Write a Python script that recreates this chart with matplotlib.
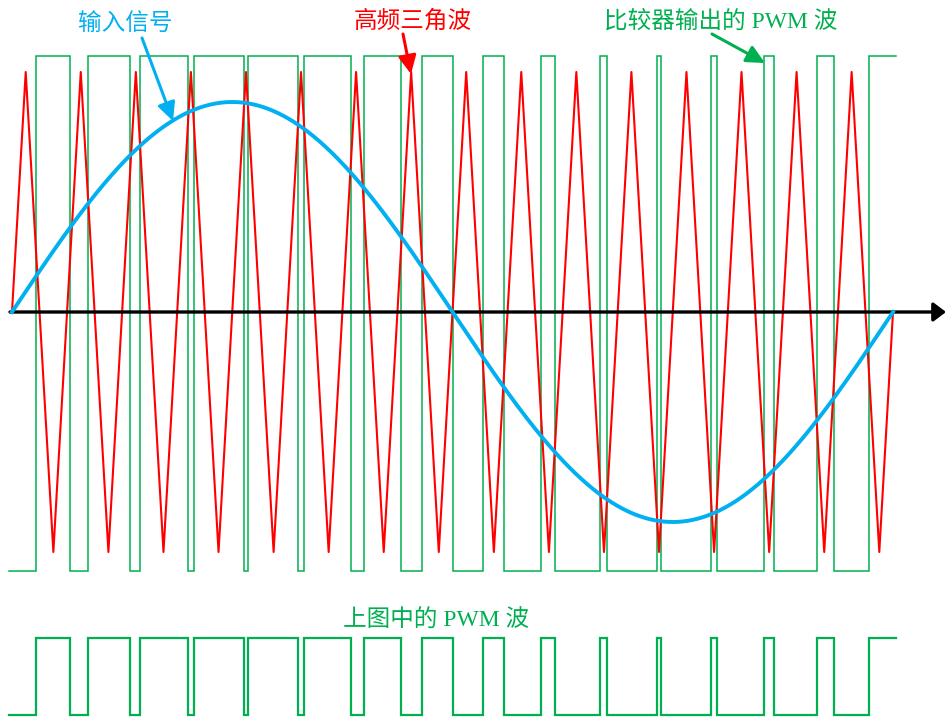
import numpy as np
import matplotlib
matplotlib.use("Agg")
import matplotlib.pyplot as plt
from matplotlib.patches import FancyArrowPatch

# ---------------- data (phase in degrees over one period of the input signal) ----------------
# triangle carrier vertices (phase, normalised value)
tri_phase = [0, 5.6, 16.9, 28.1, 39.4, 50.6, 61.9, 73.1, 84.4, 95.6, 106.9, 118.1, 129.4,
             140.6, 151.9, 163.1, 174.4, 185.6, 196.9, 208.1, 219.4, 230.6, 241.9, 253.1,
             264.4, 275.6, 286.9, 298.1, 309.4, 320.6, 331.9, 343.1, 354.4, 360]
tri_value = [0, 1, -1, 1, -1, 1, -1, 1, -1, 1, -1, 1, -1, 1, -1, 1, -1,
             1, -1, 1, -1, 1, -1, 1, -1, 1, -1, 1, -1, 1, -1, 1, -1, 0]

# input sine signal: amplitude relative to carrier amplitude
sine_amplitude = 0.875
sine_period_deg = 360.0

# PWM switching instants (phase, degrees)
pwm_start = -1.4
pwm_rise = [9.8, 31.1, 52.3, 74.4, 96.4, 119.3, 143.8, 167.5, 192.5, 216.2,
            240.3, 263.6, 285.6, 307.3, 328.9, 350.2]
pwm_fall = [23.7, 48.2, 71.9, 94.8, 116.9, 138.5, 159.0, 180.2, 201.0, 221.9,
            243.1, 265.2, 288.0, 311.4, 335.9]
pwm_end = 361.2

# labels
label_input = "输入信号"
label_carrier = "高频三角波"
label_pwm = "比较器输出的 PWM 波"
label_pwm2 = "上图中的 PWM 波"

# ---------------- styling ----------------
BLUE = "#00b0f0"
RED = "#ff0000"
GREEN = "#00b050"
W, H = 947, 717
k = 881 / 360.0   # px per degree
x0 = 12.0         # px of phase 0
y0 = 312.0        # px of zero line
s = 240.0         # px per unit


def pwm_steps(low, high):
    xs = [pwm_start]
    ys = [low]
    for i, r in enumerate(pwm_rise):
        xs += [r, r]
        ys += [low, high]
        if i < len(pwm_fall):
            f = pwm_fall[i]
            xs += [f, f]
            ys += [high, low]
    xs.append(pwm_end)
    ys.append(high)
    return xs, ys


fig = plt.figure(figsize=(W / 100, H / 100), dpi=100)
ax = fig.add_axes([0, 0, 1, 1])
ax.set_xlim(-x0 / k, (W - x0) / k)
ax.set_ylim((y0 - H) / s, y0 / s)
ax.axis("off")

# top PWM
gx, gy = pwm_steps(-1.078, 1.0646)
ax.plot(gx, gy, color=GREEN, lw=1.1, zorder=1, solid_joinstyle="miter")

# triangle carrier
ax.plot(tri_phase, tri_value, color=RED, lw=1.5, zorder=2)

# axis with arrow
axis_arrow = FancyArrowPatch(((10 - x0) / k, 0), ((W - 1 - x0) / k, 0),
                             arrowstyle="-|>,head_length=0.5,head_width=0.38",
                             mutation_scale=15, lw=2.4, color="black",
                             shrinkA=0, shrinkB=0, zorder=3)
ax.add_patch(axis_arrow)

# sine
ph = np.linspace(0, sine_period_deg, 721)
ax.plot(ph, sine_amplitude * np.sin(np.deg2rad(ph)), color=BLUE, lw=2.8, zorder=4)

# bottom PWM
bx, by = pwm_steps(-1.679, -1.358)
ax.plot(bx, by, color=GREEN, lw=1.6, zorder=1, solid_joinstyle="miter")

# ---------------- annotations (pixel overlay) ----------------
ov = fig.add_axes([0, 0, 1, 1])
ov.set_xlim(0, W)
ov.set_ylim(H, 0)
ov.axis("off")
ov.patch.set_alpha(0)

fam = ["Liberation Serif", "Noto Sans CJK SC"]
fs = 17
ov.text(125, 23, label_input, color=BLUE, fontsize=fs, ha="center", va="center",
        family=["Noto Sans CJK SC"])
ov.text(413, 21, label_carrier, color=RED, fontsize=fs, ha="center", va="center",
        family=["Noto Sans CJK SC"])
ov.text(721, 21, label_pwm, color=GREEN, fontsize=fs, ha="center", va="center", family=fam)
ov.text(436, 621, label_pwm2, color=GREEN, fontsize=fs, ha="center", va="center", family=fam)

def arrow(p0, p1, color):
    a = FancyArrowPatch(p0, p1, arrowstyle="-|>,head_length=0.55,head_width=0.27",
                        mutation_scale=20, lw=2.2, color=color,
                        shrinkA=0, shrinkB=0, zorder=5)
    ov.add_patch(a)

arrow((142, 38), (173, 121), BLUE)
arrow((403, 34), (411, 74), RED)
arrow((712, 34), (765, 63), GREEN)

fig.savefig("out.png", dpi=100)
